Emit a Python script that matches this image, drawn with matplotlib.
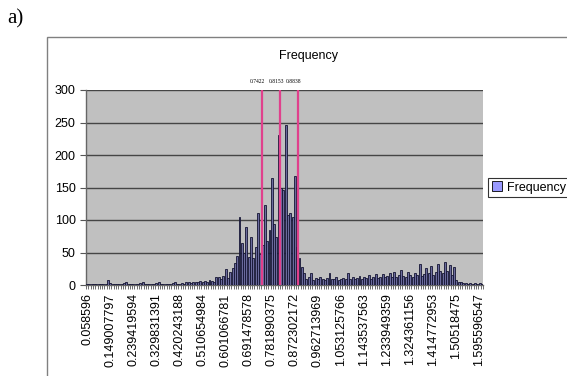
import matplotlib
matplotlib.use("Agg")
import matplotlib.pyplot as plt
from matplotlib.patches import Rectangle, Patch
import numpy as np

plt.rcParams['font.family'] = ['Liberation Sans', 'DejaVu Sans']

# ---- data ----
bin_start = 0.058596
bin_step = 0.0090411797
frequency = [
    2, 1, 2, 1, 1, 2, 1, 2, 1, 8,
    3, 2, 1, 2, 1, 2, 3, 4, 2, 1,
    1, 2, 2, 3, 5, 2, 1, 2, 1, 2,
    3, 4, 2, 1, 2, 2, 1, 3, 4, 2,
    2, 3, 2, 4, 5, 3, 4, 5, 4, 6,
    5, 6, 4, 7, 6, 4, 12, 13, 9, 14,
    24, 11, 20, 26, 34, 44, 105, 65, 50, 89,
    43, 74, 42, 59, 111, 48, 62, 123, 68, 84,
    164, 94, 74, 231, 150, 146, 246, 108, 111, 105,
    168, 58, 42, 28, 19, 10, 12, 19, 8, 11,
    9, 12, 10, 8, 11, 18, 9, 10, 12, 8,
    10, 11, 9, 18, 10, 12, 9, 11, 14, 10,
    12, 11, 16, 10, 13, 17, 11, 12, 17, 13,
    14, 18, 12, 20, 13, 15, 23, 14, 12, 20,
    15, 13, 19, 16, 33, 14, 17, 26, 18, 29,
    15, 20, 33, 22, 18, 35, 21, 31, 16, 28,
    8, 5, 4, 3, 3, 2, 3, 2, 3, 2,
    3, 2,
]
tick_labels = ["0.058596", "0.149007797", "0.239419594", "0.329831391",
               "0.420243188", "0.510654984", "0.601066781", "0.691478578",
               "0.781890375", "0.872302172", "0.962713969", "1.053125766",
               "1.143537563", "1.233949359", "1.324361156", "1.414772953",
               "1.50518475", "1.595596547"]
marker_values = [0.7422, 0.8153, 0.8838]
marker_labels = ["0.7422", "0.8153", "0.8838"]
yticks = [0, 50, 100, 150, 200, 250, 300]

W, H = 567, 376
fig = plt.figure(figsize=(W / 100, H / 100), dpi=100)

# outer chart frame
fig.patches.append(Rectangle((47 / W, -0.05), 1.2, (1 - 37 / H) + 0.05,
                             transform=fig.transFigure, fill=False,
                             edgecolor='#808080', linewidth=1.0))

fig.text(7 / W, 1 - 23 / H, "a)", family=['Liberation Serif'], fontsize=15,
         ha='left', va='baseline')

ax = fig.add_axes([86 / W, 1 - 285 / H, (483 - 86) / W, (285 - 90) / H])
ax.set_facecolor('#C0C0C0')

n = len(frequency)
idx = np.arange(n)
ax.bar(idx, frequency, width=0.85, color='#6a6a9c', edgecolor='#141432',
       linewidth=0.6, zorder=3)

ax.set_xlim(-0.5, n - 0.5)
ax.set_ylim(0, 300)
ax.set_yticks(yticks)
ax.yaxis.grid(True, color='#454545', linewidth=1.0, zorder=1)
ax.set_axisbelow(True)

major_pos = [i * 10 for i in range(len(tick_labels))]
ax.set_xticks(major_pos)
ax.set_xticklabels(tick_labels, rotation=90, fontsize=9)
ax.set_xticks(np.arange(n + 1) - 0.5, minor=True)
ax.tick_params(axis='x', which='major', length=0, pad=6)
ax.tick_params(axis='x', which='minor', length=3, color='#555555', width=0.6)
ax.tick_params(axis='y', labelsize=9, length=4, color='#555555')

for sp in ['top', 'right']:
    ax.spines[sp].set_visible(False)
for sp in ['left', 'bottom']:
    ax.spines[sp].set_color('#666666')
    ax.spines[sp].set_linewidth(1.0)

for v, lab in zip(marker_values, marker_labels):
    xpos = (v - bin_start) / bin_step
    ax.axvline(xpos, color='#E0408C', linewidth=1.6, zorder=4)
    ax.annotate(lab, xy=(xpos, 300), xytext=(-3, 4), textcoords='offset points',
                ha='center', va='bottom', fontsize=4,
                family=['Liberation Serif'], annotation_clip=False)

fig.text(308 / W, 1 - 56 / H, "Frequency", ha='center', va='center', fontsize=9)

handle = Patch(facecolor='#9999FF', edgecolor='#000000', linewidth=0.6)
leg = fig.legend([handle], ["Frequency"], loc='center left',
                 bbox_to_anchor=(488 / W, 1 - 187.5 / H), fontsize=9,
                 frameon=True, fancybox=False, handlelength=0.8,
                 handleheight=0.8, handletextpad=0.4, borderpad=0.3,
                 borderaxespad=0)
leg.get_frame().set_edgecolor('#000000')
leg.get_frame().set_linewidth(0.8)

fig.savefig("out.png", dpi=100)
